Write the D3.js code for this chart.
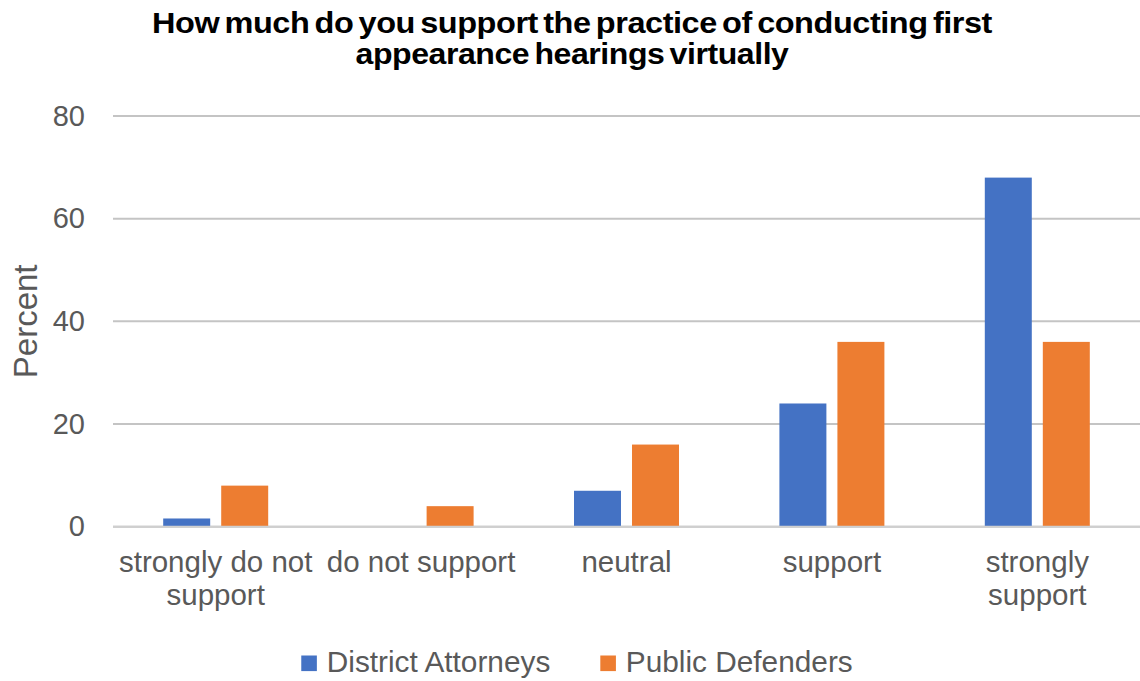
<!DOCTYPE html>
<html>
<head>
<meta charset="utf-8">
<script src="https://cdn.jsdelivr.net/npm/d3@7"></script>
<style>
  html, body { margin: 0; padding: 0; background: #fff; }
  svg { display: block; font-family: "Liberation Sans", Arial, sans-serif; }
</style>
</head>
<body>
<svg id="chart" width="1140" height="681"></svg>
<script>
// Survey responses by group (percent)
const categories = ["strongly do not support", "do not support", "neutral", "support", "strongly support"];
const seriesNames = ["District Attorneys", "Public Defenders"];
const districtAttorneys = [1.6, 0, 7, 24, 68];
const publicDefenders = [8, 4, 16, 36, 36];
const yTicks = [0, 20, 40, 60, 80];
const titleLines = ["How much do you support the practice of conducting first", "appearance hearings virtually"];
const yTitle = "Percent";

const colors = ["#4472C4", "#ED7D31"];
const seriesValues = [districtAttorneys, publicDefenders];

const svg = d3.select("#chart");
const plot = { left: 113, right: 1140, top: 116, bottom: 526.7 };

const x = d3.scaleBand().domain(categories).range([plot.left, plot.right]).padding(0);
const xInner = d3.scaleBand().domain(seriesNames).range([-52.5, 52.5]).paddingInner(0.19).paddingOuter(0);
const y = d3.scaleLinear().domain([0, 80]).range([plot.bottom, plot.top]);

// Horizontal gridlines
svg.append("g")
  .selectAll("line")
  .data(yTicks)
  .join("line")
  .attr("x1", plot.left)
  .attr("x2", plot.right)
  .attr("y1", d => y(d))
  .attr("y2", d => y(d))
  .attr("stroke", "#c4c4c4")
  .attr("stroke-width", 2);

// Y axis tick labels
const yAxis = d3.axisLeft(y).tickValues(yTicks).tickSize(0).tickPadding(0);
const yg = svg.append("g").attr("transform", `translate(${plot.left - 28},0)`).call(yAxis);
yg.select(".domain").remove();
yg.selectAll("text")
  .attr("fill", "#595959")
  .style("font-size", "29px")
  .style("font-family", "'Liberation Sans', Arial, sans-serif");

// Bars
const rows = categories.map((c, i) => ({ category: c, values: seriesNames.map((s, j) => ({ series: s, value: seriesValues[j][i], color: colors[j] })) }));

svg.append("g")
  .selectAll("g")
  .data(rows)
  .join("g")
  .attr("transform", d => `translate(${x(d.category) + x.bandwidth() / 2},0)`)
  .selectAll("rect")
  .data(d => d.values)
  .join("rect")
  .attr("x", d => xInner(d.series))
  .attr("width", xInner.bandwidth())
  .attr("y", d => y(d.value))
  .attr("height", d => y(0) - y(d.value))
  .attr("fill", d => d.color);

// Baseline
svg.append("line")
  .attr("x1", plot.left).attr("x2", plot.right)
  .attr("y1", y(0)).attr("y2", y(0))
  .attr("stroke", "#cfcfcf").attr("stroke-width", 2);

// X axis category labels, wrapped to the band width
const xLabels = svg.append("g")
  .selectAll("text")
  .data(categories)
  .join("text")
  .attr("x", d => x(d) + x.bandwidth() / 2)
  .attr("y", 571.5)
  .attr("text-anchor", "middle")
  .attr("fill", "#595959")
  .style("font-size", "29.5px");

xLabels.each(function(d) {
  const el = d3.select(this);
  const cx = x(d) + x.bandwidth() / 2;
  const words = d.split(" ");
  const lines = [];
  let line = [];
  const probe = el.append("tspan");
  words.forEach(w => {
    const test = line.concat(w).join(" ");
    probe.text(test);
    if (probe.node().getComputedTextLength() > x.step() && line.length) {
      lines.push(line.join(" "));
      line = [w];
    } else {
      line.push(w);
    }
  });
  lines.push(line.join(" "));
  probe.remove();
  lines.forEach((t, i) => {
    el.append("tspan").attr("x", cx).attr("dy", i === 0 ? 0 : 33.5).text(t);
  });
});

// Y axis title
svg.append("text")
  .attr("transform", `translate(37,${(plot.top + plot.bottom) / 2}) rotate(-90)`)
  .attr("text-anchor", "middle")
  .attr("fill", "#595959")
  .style("font-size", "33px")
  .text(yTitle);

// Chart title: tightly set bold lines
const titleWidths = [840, 433];
const titleBaselines = [33, 64];
titleLines.forEach((t, i) => {
  svg.append("text")
    .attr("x", 572)
    .attr("y", titleBaselines[i])
    .attr("text-anchor", "middle")
    .attr("fill", "#000")
    .style("font-size", "29.5px")
    .style("font-weight", "bold")
    .style("letter-spacing", "-0.4px")
    .style("word-spacing", "-3px")
    .attr("textLength", titleWidths[i])
    .attr("lengthAdjust", "spacingAndGlyphs")
    .text(t);
});

// Legend
const legend = svg.append("g");
const items = legend.selectAll("g")
  .data(seriesNames)
  .join("g");
items.append("rect")
  .attr("width", 15.6).attr("height", 15.6)
  .attr("y", -16.5)
  .attr("fill", (d, i) => colors[i]);
items.append("text")
  .attr("x", 25.5)
  .attr("y", 0)
  .attr("fill", "#595959")
  .style("font-size", "29.8px")
  .text(d => d);
let offset = 0;
items.each(function() {
  const g = d3.select(this);
  g.attr("transform", `translate(${offset},0)`);
  offset += this.getBBox().width + 50;
});
const legendWidth = offset - 50;
legend.attr("transform", `translate(${577 - legendWidth / 2},672)`);
</script>
</body>
</html>
